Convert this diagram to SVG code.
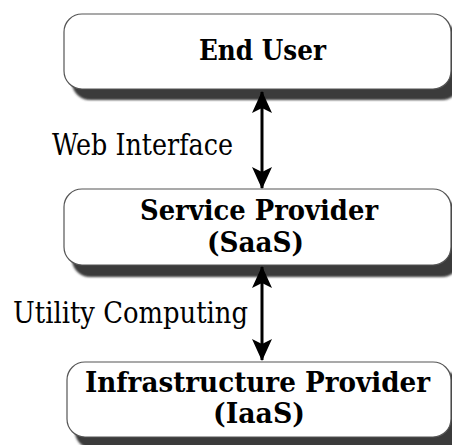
<svg xmlns="http://www.w3.org/2000/svg" width="452" height="445" viewBox="0 0 452 445">
<style>
.box{fill:#ffffff;stroke:#555555;stroke-width:1.2}
.shadow{fill:#3a3a3a;filter:url(#blur)}
.title{font-family:"DejaVu Serif","Liberation Serif",serif;font-weight:bold;font-size:28px;fill:#000;text-anchor:middle}
.label{font-family:"DejaVu Serif","Liberation Serif",serif;font-size:29px;fill:#000}
.conn{stroke:#000;stroke-width:3;fill:none;marker-start:url(#ah);marker-end:url(#ah)}
</style>
<defs>
<filter id="blur" x="-10%" y="-20%" width="120%" height="140%"><feGaussianBlur stdDeviation="1"/></filter>
<marker id="ah" viewBox="0 0 22 20" refX="21" refY="10" markerWidth="22" markerHeight="20" markerUnits="userSpaceOnUse" orient="auto-start-reverse">
<path d="M0,0 L22,10 L0,20 L5,10 z" fill="#000"/>
</marker>
</defs>
<g id="end-user">
<rect class="shadow" x="72" y="24" width="388" height="76" rx="18"/>
<rect class="box" x="64" y="14" width="387" height="75" rx="18"/>
<text class="title" x="262.5" y="60" textLength="127" lengthAdjust="spacingAndGlyphs">End User</text>
</g>
<g id="service-provider">
<rect class="shadow" x="72" y="200" width="388" height="77" rx="18"/>
<rect class="box" x="64" y="189" width="387" height="76" rx="18"/>
<text class="title" x="259" y="220" textLength="238" lengthAdjust="spacingAndGlyphs">Service Provider</text>
<text class="title" x="255.5" y="252" textLength="97" lengthAdjust="spacingAndGlyphs">(SaaS)</text>
</g>
<g id="infrastructure-provider">
<rect class="shadow" x="75" y="372" width="388" height="77" rx="18"/>
<rect class="box" x="67" y="362" width="384" height="75" rx="18"/>
<text class="title" x="257.5" y="392" textLength="345" lengthAdjust="spacingAndGlyphs">Infrastructure Provider</text>
<text class="title" x="259" y="423" textLength="92" lengthAdjust="spacingAndGlyphs">(IaaS)</text>
</g>
<g id="connectors">
<line class="conn" x1="262" y1="92" x2="262" y2="188"/>
<line class="conn" x1="262" y1="267" x2="262" y2="360"/>
<text class="label" x="52" y="155" textLength="181" lengthAdjust="spacingAndGlyphs">Web Interface</text>
<text class="label" x="13" y="323" textLength="235" lengthAdjust="spacingAndGlyphs">Utility Computing</text>
</g>
</svg>
